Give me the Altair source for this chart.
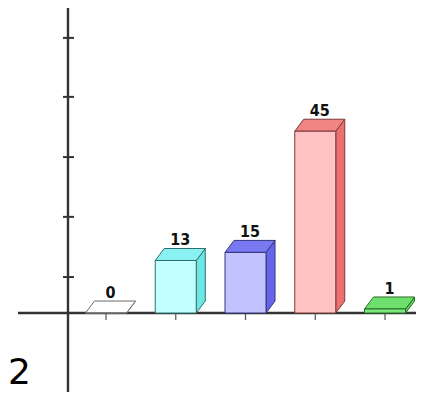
import altair as alt
import pandas as pd

# ---- data ----
bars = ["A", "B", "C", "D", "E"]
values = [0, 13, 15, 45, 1]
label_text = ["0", "13", "15", "45", "1"]
yaxis_ticks = [8.9, 23.8, 38.6, 53.5, 68.1]

front_colors = ["#ffffff", "#c2ffff", "#c2c2ff", "#ffc2c2", "#7ce87c"]
top_colors = ["#ffffff", "#8af2f2", "#7878f0", "#f28484", "#6ee06e"]
side_colors = ["#ffffff", "#6ee6e6", "#6464ec", "#ec7070", "#5cd45c"]
edge_colors = ["#6a6a6a", "#2f6f6f", "#34347a", "#7a3a3a", "#2a6a2a"]

# ---- geometry helpers (scale units) ----
HW = 0.294   # half bar width (x units)
DX = 0.129   # depth offset x
DY = 2.97    # depth offset y
XDOM = [-1.405, 4.444]
YDOM = [-19.55, 75.5]

W, H = 408, 384

xs = alt.Scale(domain=XDOM, nice=False, zero=False)
ys = alt.Scale(domain=YDOM, nice=False, zero=False)

front_rows, side_rows, top_rows, lab_rows = [], [], [], []
for i, (b, v) in enumerate(zip(bars, values)):
    front_rows.append(dict(fbar=b, x=i - HW, x2=i + HW, y=0, y2=v))
    side_rows.append(dict(sbar=b, x=i + HW, y=0, y2=v))
    side_rows.append(dict(sbar=b, x=i + HW + DX, y=DY, y2=v + DY))
    top_rows.append(dict(tbar=b, y=v, x=i - HW, x2=i + HW))
    top_rows.append(dict(tbar=b, y=v + DY, x=i - HW + DX, x2=i + HW + DX))
    lab_rows.append(dict(x=i + DX / 2, y=v + DY, t=label_text[i]))

front_df = pd.DataFrame(front_rows)
side_df = pd.DataFrame(side_rows)
top_df = pd.DataFrame(top_rows)
lab_df = pd.DataFrame(lab_rows)


def cscale(rng):
    return alt.Scale(domain=bars, range=rng)


# axes (drawn as rules)
yaxis = alt.Chart(pd.DataFrame({"x": [-0.545], "y": [YDOM[0]], "y2": [YDOM[1]]})).mark_rule(
    color="#333333", strokeWidth=2.4
).encode(x=alt.X("x:Q", scale=xs, axis=None), y=alt.Y("y:Q", scale=ys, axis=None), y2="y2:Q")

xaxis = alt.Chart(pd.DataFrame({"x": [-1.262], "x2": [4.52], "y": [0]})).mark_rule(
    color="#333333", strokeWidth=2.4
).encode(x=alt.X("x:Q", scale=xs, axis=None), x2="x2:Q", y=alt.Y("y:Q", scale=ys, axis=None))

ytick_df = pd.DataFrame({"y": yaxis_ticks, "x": [-0.6165] * 5, "x2": [-0.459] * 5})
yticks = alt.Chart(ytick_df).mark_rule(color="#333333", strokeWidth=2).encode(
    x=alt.X("x:Q", scale=xs, axis=None), x2="x2:Q", y=alt.Y("y:Q", scale=ys, axis=None)
)

xtick_df = pd.DataFrame({"x": list(range(len(bars))), "y": [0] * 5, "y2": [-1.73] * 5})
xticks = alt.Chart(xtick_df).mark_rule(color="#555555", strokeWidth=1.2).encode(
    x=alt.X("x:Q", scale=xs, axis=None), y=alt.Y("y:Q", scale=ys, axis=None), y2="y2:Q"
)

side = alt.Chart(side_df).mark_area(strokeWidth=1, opacity=1).encode(
    x=alt.X("x:Q", scale=xs, axis=None),
    y=alt.Y("y:Q", scale=ys, axis=None),
    y2="y2:Q",
    detail="sbar:N",
    fill=alt.Fill("sbar:N", scale=cscale(side_colors), legend=None),
    stroke=alt.Stroke("sbar:N", scale=cscale(edge_colors), legend=None),
)

top = alt.Chart(top_df).mark_area(orient="horizontal", strokeWidth=1, opacity=1).encode(
    y=alt.Y("y:Q", scale=ys, axis=None),
    x=alt.X("x:Q", scale=xs, axis=None),
    x2="x2:Q",
    detail="tbar:N",
    fill=alt.Fill("tbar:N", scale=cscale(top_colors), legend=None),
    stroke=alt.Stroke("tbar:N", scale=cscale(edge_colors), legend=None),
)

front = alt.Chart(front_df).mark_rect(strokeWidth=1).encode(
    x=alt.X("x:Q", scale=xs, axis=None),
    x2="x2:Q",
    y=alt.Y("y:Q", scale=ys, axis=None),
    y2="y2:Q",
    fill=alt.Fill("fbar:N", scale=cscale(front_colors), legend=None),
    stroke=alt.Stroke("fbar:N", scale=cscale(edge_colors), legend=None),
)

labels = alt.Chart(lab_df).mark_text(
    baseline="bottom", align="center", dy=0, fontSize=16,
    font="DejaVu Sans Condensed, Liberation Sans Narrow, sans-serif",
    fontWeight="bold", color="#111111",
).encode(
    x=alt.X("x:Q", scale=xs, axis=None),
    y=alt.Y("y:Q", scale=ys, axis=None),
    text="t:N",
)

page_num = alt.Chart(pd.DataFrame({"x": [-1.405], "y": [YDOM[0]], "t": ["2"]})).mark_text(
    align="left", baseline="bottom", fontSize=36, font="DejaVu Sans", color="#000000"
).encode(
    x=alt.X("x:Q", scale=xs, axis=None),
    y=alt.Y("y:Q", scale=ys, axis=None),
    text="t:N",
)

chart = alt.layer(
    xaxis, xticks, yaxis, yticks, side, top, front, labels, page_num
).resolve_scale(
    fill="independent", stroke="independent"
).properties(
    width=W, height=H, padding=0, background="#ffffff",
    autosize=alt.AutoSizeParams(type="none")
).configure_view(stroke=None, strokeWidth=0)

chart.save("out.html", embed_options={"renderer": "svg", "actions": False})
